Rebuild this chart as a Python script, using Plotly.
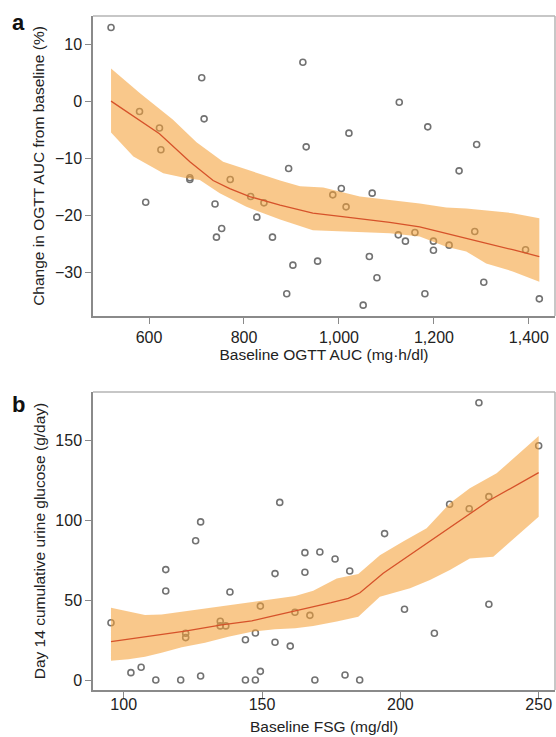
import plotly.graph_objects as go

# ---------------- Panel a data ----------------
a_x = [520, 580, 711, 716, 622, 625, 686, 686, 593, 771, 739, 814, 842, 827, 753, 742,
       924, 1127, 1187, 1021, 931, 1290, 894, 1253, 1005, 987, 1070, 1015, 860, 1125,
       1140, 1160, 1199, 1199, 1232, 1286, 1393, 903, 955, 1064, 1080, 1305, 890, 1181,
       1051, 1422]
a_y = [12.9, -1.8, 4.1, -3.1, -4.7, -8.5, -13.4, -13.7, -17.7, -13.7, -18.0, -16.7, -17.8,
       -20.3, -22.3, -23.8, 6.8, -0.2, -4.5, -5.6, -8.0, -7.6, -11.8, -12.2, -15.3, -16.4,
       -16.1, -18.5, -23.8, -23.4, -24.5, -23.0, -24.5, -26.1, -25.2, -22.8, -26.0, -28.7,
       -28.0, -27.2, -30.9, -31.7, -33.7, -33.7, -35.7, -34.6]

a_fit_x = [520, 580, 622, 686, 735, 770, 812, 876, 945, 1016, 1107, 1170, 1226, 1296, 1366, 1422]
a_fit_y = [0.0, -3.3, -5.7, -10.6, -13.9, -15.3, -16.7, -18.2, -19.6, -20.3, -21.2, -22.0,
           -23.1, -24.6, -26.0, -27.2]

a_up_x = [520, 581, 650, 700, 756, 819, 876, 918, 967, 1044, 1107, 1170, 1226, 1268, 1366, 1422]
a_up_y = [5.7, 1.4, -3.2, -7.2, -10.6, -12.4, -13.9, -14.9, -15.1, -16.7, -17.3, -17.9,
          -18.6, -18.8, -19.6, -20.5]
a_lo_x = [520, 567, 630, 679, 707, 749, 805, 876, 945, 1016, 1107, 1170, 1226, 1268, 1310, 1366, 1422]
a_lo_y = [-5.5, -9.7, -12.6, -13.5, -13.8, -16.1, -18.5, -20.7, -22.6, -22.8, -23.1, -23.7,
          -25.5, -26.3, -28.4, -29.8, -31.6]

a_xticks = [600, 800, 1000, 1200, 1400]
a_xticklabels = ["600", "800", "1,000", "1,200", "1,400"]
a_yticks = [-30, -20, -10, 0, 10]

# ---------------- Panel b data ----------------
b_x = [95.4, 102.6, 106.3, 111.6, 115.2, 115.2, 120.6, 122.4, 122.4, 126.0, 127.8, 127.8,
       134.9, 134.9, 136.9, 138.4, 144.0, 144.0, 147.6, 147.6, 149.4, 149.4, 154.7, 154.7,
       156.4, 160.2, 165.5, 165.5, 170.9, 176.4, 181.7, 161.9, 167.3, 169.1, 180.0, 185.3,
       194.3, 201.5, 212.3, 217.8, 224.9, 228.4, 232.0, 232.0, 250.0]
b_y = [35.8, 4.6, 8.0, 0, 69, 55.6, 0, 29.2, 26.5, 87, 98.8, 2.5,
       36.7, 33.8, 33.8, 55, 25.2, 0, 29.4, 0, 46.2, 5.4, 23.6, 66.5,
       111, 21.2, 79.6, 67.3, 80, 75.6, 68.1, 42.3, 40.4, 0, 3.1, 0,
       91.5, 44.2, 29.2, 109.8, 107, 173.3, 114.6, 47.3, 146.4]

b_fit_x = [95.4, 110, 122.2, 135.4, 146.3, 152.9, 164.9, 175, 181.2, 185.4, 193.8, 213.1, 232.4, 250]
b_fit_y = [24.0, 27.5, 30.6, 34.4, 37.0, 39.6, 44.2, 48.3, 51.0, 54.5, 66.7, 89.6, 112.5, 129.6]

b_up_x = [95.4, 101.7, 107.7, 113.7, 121, 129.4, 137.8, 146.3, 154.7, 162, 168.5, 177, 184.8,
          192.6, 201, 209.5, 217.9, 225.1, 234.8, 250]
b_up_y = [45.2, 42.7, 40.6, 41.0, 42.7, 44.8, 46.9, 49.0, 51.0, 52.5, 55.8, 63.5, 66.3,
          78.0, 86.5, 94.8, 110.4, 119.8, 129.2, 152.5]
b_lo_x = [95.4, 101.7, 107.7, 113.7, 121, 129.4, 137.8, 146.3, 154.7, 162, 168.5, 177, 184.8,
          192.6, 203.5, 210.7, 217.9, 225.1, 233.6, 250]
b_lo_y = [12.0, 12.9, 14.6, 17.1, 20.4, 23.3, 27.1, 30.2, 31.7, 32.3, 33.8, 36.5, 39.6,
          52.0, 57.3, 62.5, 68.8, 76.0, 77.0, 102.0]

b_xticks = [100, 150, 200, 250]
b_yticks = [0, 50, 100, 150]

# ---------------- styles ----------------
W, H = 556, 737
FONT = "Liberation Sans, Arial, Helvetica, sans-serif"
TXT = "#222222"
BAND = "rgba(245,160,55,0.58)"
LINE = "#D6522A"
PT = "#727272"
AX = "#8a8a8a"
FRAME = "#b5b5b5"

L, R = 93, 555
a_top, a_bot = 16, 316
b_top, b_bot = 392, 690

def px(v):
    return v / W

def py(v):
    return 1 - v / H

fig = go.Figure()

def add_panel(xs, ys, fx, fy, ux, uy, lx, ly, xa, ya):
    fig.add_trace(go.Scatter(x=xs, y=ys, mode="markers", xaxis=xa, yaxis=ya,
                             marker=dict(symbol="circle-open", size=6, color=PT,
                                         line=dict(width=1.6, color=PT)),
                             hoverinfo="skip", showlegend=False))
    fig.add_trace(go.Scatter(x=list(ux) + list(lx)[::-1], y=list(uy) + list(ly)[::-1],
                             mode="lines", fill="toself", fillcolor=BAND,
                             line=dict(width=0), xaxis=xa, yaxis=ya,
                             hoverinfo="skip", showlegend=False))
    fig.add_trace(go.Scatter(x=fx, y=fy, mode="lines", line=dict(color=LINE, width=1.3),
                             xaxis=xa, yaxis=ya, hoverinfo="skip", showlegend=False))

add_panel(a_x, a_y, a_fit_x, a_fit_y, a_up_x, a_up_y, a_lo_x, a_lo_y, "x", "y")
add_panel(b_x, b_y, b_fit_x, b_fit_y, b_up_x, b_up_y, b_lo_x, b_lo_y, "x2", "y2")

axis_common = dict(showgrid=False, zeroline=False, showline=True, linecolor=AX, linewidth=1.5,
                   ticks="outside", ticklen=6, tickwidth=1.3, tickcolor=AX,
                   tickfont=dict(family=FONT, size=16, color=TXT))
TFONT = dict(family=FONT, size=15.5, color=TXT)

fig.update_layout(
    width=W, height=H, margin=dict(l=0, r=0, t=0, b=0),
    paper_bgcolor="white", plot_bgcolor="white",
    font=dict(family=FONT, color=TXT),
    xaxis=dict(domain=[px(L), px(R)], anchor="y", range=[482, 1455],
               tickvals=a_xticks, ticktext=a_xticklabels,
               title=dict(text="Baseline OGTT AUC (mg·h/dl)", font=TFONT, standoff=0),
               **axis_common),
    yaxis=dict(domain=[py(a_bot), py(a_top)], anchor="x", range=[-37.6, 14.9],
               tickvals=a_yticks,
               title=dict(text="Change in OGTT AUC from baseline (%)", font=TFONT, standoff=6),
               **axis_common),
    xaxis2=dict(domain=[px(L), px(R)], anchor="y2", range=[88.9, 255.9],
                tickvals=b_xticks, ticklabelstandoff=-7,
                **axis_common),
    yaxis2=dict(domain=[py(b_bot), py(b_top)], anchor="x2", range=[-6.25, 180],
                tickvals=b_yticks,
                title=dict(text="Day 14 cumulative urine glucose (g/day)", font=TFONT, standoff=6),
                **axis_common),
)

# light frame on top and right of each panel
for top, bot in [(a_top, a_bot), (b_top, b_bot)]:
    fig.add_shape(type="line", xref="paper", yref="paper", x0=px(L), x1=px(R),
                  y0=py(top), y1=py(top), line=dict(color=FRAME, width=1.5))
    fig.add_shape(type="line", xref="paper", yref="paper", x0=px(R), x1=px(R),
                  y0=py(top), y1=py(bot), line=dict(color=FRAME, width=1.5))

# x title of panel b (placed as annotation to sit close to the bottom edge)
fig.add_annotation(text="Baseline FSG (mg/dl)", xref="paper", yref="paper",
                   x=px((L + R) / 2), y=py(737), xanchor="center", yanchor="bottom",
                   showarrow=False, font=TFONT)

fig.add_annotation(text="<b>a</b>", xref="paper", yref="paper", x=px(10), y=py(8),
                   xanchor="left", yanchor="top", showarrow=False,
                   font=dict(family=FONT, size=22, color="#111"))
fig.add_annotation(text="<b>b</b>", xref="paper", yref="paper", x=px(10), y=py(390),
                   xanchor="left", yanchor="top", showarrow=False,
                   font=dict(family=FONT, size=22, color="#111"))

fig.write_html("out.html", config={"displayModeBar": False},
               post_script="document.body.style.margin='0';document.body.style.padding='0';"
                           "document.documentElement.style.overflow='hidden';")
